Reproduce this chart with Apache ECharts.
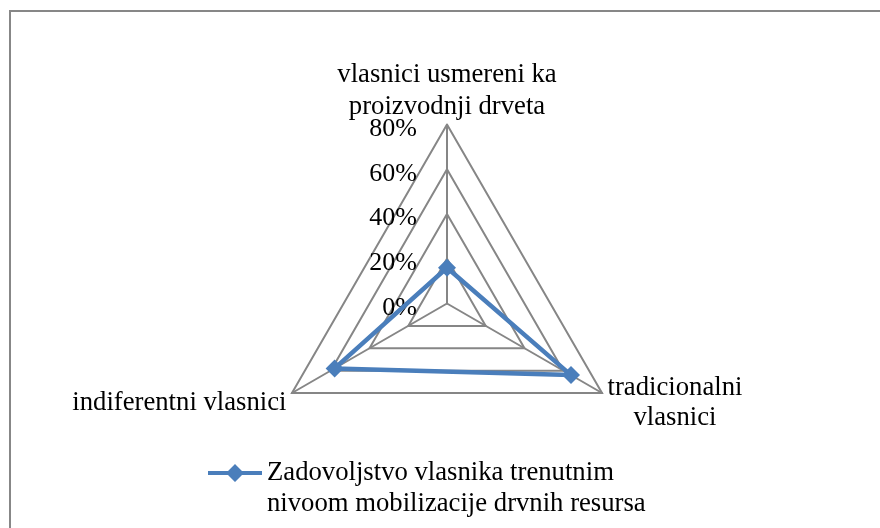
<!DOCTYPE html>
<html>
<head>
<meta charset="utf-8">
<script src="https://cdn.jsdelivr.net/npm/echarts@6/dist/echarts.min.js"></script>
<style>
  html, body { margin: 0; padding: 0; background: #fff; }
  #chart { width: 880px; height: 528px; }
</style>
</head>
<body>
<div id="chart"></div>
<script>
// indicators in drawing order (echarts lays them out counter-clockwise from the top)
const indicatorNames = [
  'vlasnici usmereni ka\nproizvodnji drveta',
  'indiferentni vlasnici',
  'tradicionalni\nvlasnici',
];
const seriesName = 'Zadovoljstvo vlasnika trenutnim nivoom mobilizacije drvnih resursa';
const seriesValues = [16, 58, 64];
const axisMax = 80;

const myChart = echarts.init(document.getElementById('chart'));

const grey = '#868686';
const blue = '#4A7EBB';
const font = 'Liberation Serif';
const fs = 26.7;

const option = {
  animation: false,
  graphic: [
    {
      type: 'rect',
      shape: { x: 10, y: 11, width: 900, height: 600 },
      style: { fill: 'none', stroke: '#878787', lineWidth: 2 },
      silent: true,
    },
  ],
  legend: {
    left: 203,
    top: 452,
    itemWidth: 54,
    itemHeight: 48,
    // line + diamond in the top 18px, tiny dot at the bottom keeps the box 48 tall
    icon: 'path://M0,7L20,7L27,0L34,7L54,7L54,11L34,11L27,18L20,11L0,11ZM53.9,47.9L54,48L53.9,48Z',
    formatter() {
      return 'Zadovoljstvo vlasnika trenutnim\nnivoom mobilizacije drvnih resursa';
    },
    textStyle: {
      fontFamily: font,
      fontSize: fs,
      lineHeight: 31,
      color: '#000',
    },
    data: [seriesName],
  },
  radar: {
    center: [447, 303.5],
    radius: 179,
    shape: 'polygon',
    splitNumber: 4,
    nameGap: -7.5,
    axisName: {
      color: '#000',
      fontFamily: font,
      fontSize: fs,
      padding: [0, 12, 0, 12],
      formatter(name, ind) {
        const lines = name.split('\n');
        if (ind && ind.name === indicatorNames[0]) {
          return lines.map((s) => `{t|${s}}`).join('\n') + '\n{b|}';
        }
        return '{s|}\n' + lines.map((s) => `{c|${s}}`).join('\n');
      },
      rich: {
        t: { align: 'center', fontFamily: font, fontSize: fs, lineHeight: 32, color: '#000' },
        c: { align: 'center', fontFamily: font, fontSize: fs, lineHeight: 30, color: '#000' },
        s: { fontSize: 10, lineHeight: 27 },
        b: { fontSize: 9, lineHeight: 9 },
      },
    },
    axisLine: { lineStyle: { color: grey, width: 2 } },
    splitLine: { lineStyle: { color: grey, width: 2 } },
    splitArea: { show: false },
    axisTick: { show: false },
    axisLabel: { show: false },
    indicator: indicatorNames.map((name, i) => ({
      name,
      min: 0,
      max: axisMax,
      nameMoveOverlap: false,
      axisLabel: i === 0
        ? {
          show: true,
          formatter: '{s|}\n{v|{value}%}',
          margin: 30,
          rich: {
            s: { fontSize: 10, lineHeight: 9 },
            v: { fontFamily: font, fontSize: 26, lineHeight: 30, color: '#000' },
          },
        }
        : { show: false },
    })),
  },
  series: [
    {
      name: seriesName,
      type: 'radar',
      symbol: 'diamond',
      symbolSize: 18,
      lineStyle: { color: blue, width: 4.5 },
      itemStyle: { color: blue },
      data: [{ value: seriesValues, name: seriesName }],
    },
  ],
};

myChart.setOption(option);
window.addEventListener('resize', () => {
  myChart.resize();
});
</script>
</body>
</html>
